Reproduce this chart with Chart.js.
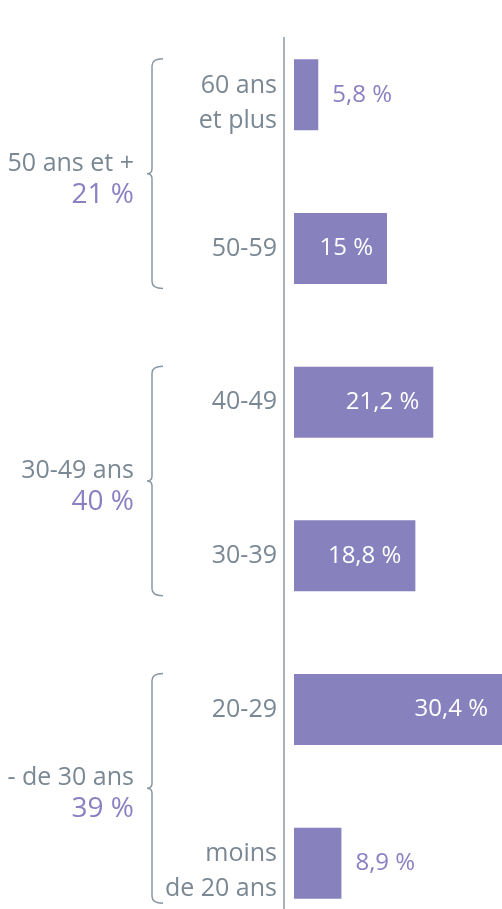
<!DOCTYPE html>
<html>
<head>
<meta charset="utf-8">
<script src="https://cdn.jsdelivr.net/npm/chart.js@4"></script>
<style>
  html, body { margin: 0; padding: 0; background: #fff; overflow: hidden; }
  #wrap { width: 502px; height: 940px; }
</style>
</head>
<body>
<div id="wrap"><canvas id="ageChart"></canvas></div>
<script>
// tranches d'age, du haut vers le bas
const categories = [["60 ans", "et plus"], "50-59", "40-49", "30-39", "20-29", ["moins", "de 20 ans"]];
const shares = [5.8, 15, 21.2, 18.8, 30.4, 8.9];
const valueLabels = ["5,8 %", "15 %", "21,2 %", "18,8 %", "30,4 %", "8,9 %"];

// regroupements (2 tranches chacun)
const groupNames = ["50 ans et +", "30-49 ans", "- de 30 ans"];
const groupShares = ["21 %", "40 %", "39 %"];

const purple = '#8781bd';
const purpleText = '#8a80c2';
const grey = '#7a8894';
const lineGrey = '#8a98a4';
const font = "'Open Sans', sans-serif";

const overlay = {
  id: 'overlay',
  afterDatasetsDraw(chart) {
    const ctx = chart.ctx;
    const yScale = chart.scales.y;
    const meta = chart.getDatasetMeta(0);
    const area = chart.chartArea;
    ctx.save();

    // trait vertical
    ctx.strokeStyle = lineGrey;
    ctx.lineWidth = 1.5;
    ctx.beginPath();
    ctx.moveTo(area.left - 10, 37);
    ctx.lineTo(area.left - 10, chart.height);
    ctx.stroke();

    // libellés des tranches
    ctx.font = "500 25px " + font;
    ctx.textBaseline = 'middle';
    ctx.textAlign = 'right';
    ctx.fillStyle = grey;
    categories.forEach((lab, i) => {
      const y = yScale.getPixelForValue(i);
      const x = area.left - 17;
      if (Array.isArray(lab)) {
        ctx.fillText(lab[0], x, y - 9);
        ctx.fillText(lab[1], x, y + 26);
      } else {
        ctx.fillText(lab, x, y);
      }
    });

    // valeurs
    ctx.font = "500 24px " + font;
    meta.data.forEach((bar, i) => {
      if (shares[i] >= 10) {
        ctx.fillStyle = '#ffffff';
        ctx.textAlign = 'right';
        ctx.fillText(valueLabels[i], bar.x - 14, bar.y);
      } else {
        ctx.fillStyle = purpleText;
        ctx.textAlign = 'left';
        ctx.fillText(valueLabels[i], bar.x + 14, bar.y);
      }
    });

    // accolades + libellés de groupe
    groupNames.forEach((name, g) => {
      const top = yScale.getPixelForValue(g * 2) - 36;
      const bottom = yScale.getPixelForValue(g * 2 + 1) + 40;
      const mid = (top + bottom) / 2;
      const x = 152, r = 7;
      ctx.strokeStyle = lineGrey;
      ctx.lineWidth = 1.5;
      ctx.beginPath();
      ctx.moveTo(x + 11, top);
      ctx.quadraticCurveTo(x, top, x, top + r);
      ctx.lineTo(x, mid - 5);
      ctx.quadraticCurveTo(x, mid, x - 5, mid);
      ctx.quadraticCurveTo(x, mid, x, mid + 5);
      ctx.lineTo(x, bottom - r);
      ctx.quadraticCurveTo(x, bottom, x + 11, bottom);
      ctx.stroke();

      ctx.textAlign = 'right';
      ctx.fillStyle = grey;
      ctx.font = "500 25px " + font;
      ctx.fillText(name, 134, mid - 10);
      ctx.fillStyle = purpleText;
      ctx.font = "500 28px " + font;
      ctx.fillText(groupShares[g], 134, mid + 21);
    });
    ctx.restore();
  }
};

new Chart(document.getElementById('ageChart'), {
  type: 'bar',
  data: {
    labels: categories,
    datasets: [{
      data: shares,
      backgroundColor: purple,
      borderWidth: 0,
      barPercentage: 0.462,
      categoryPercentage: 1
    }]
  },
  options: {
    indexAxis: 'y',
    responsive: true,
    maintainAspectRatio: false,
    animation: false,
    layout: { padding: { top: 18, left: 294, right: 0, bottom: 0 } },
    plugins: {
      legend: { display: false },
      tooltip: { enabled: false }
    },
    scales: {
      x: {
        display: false,
        min: 2.55,
        max: 30.4
      },
      y: {
        display: false
      }
    }
  },
  plugins: [overlay]
});
</script>
</body>
</html>
